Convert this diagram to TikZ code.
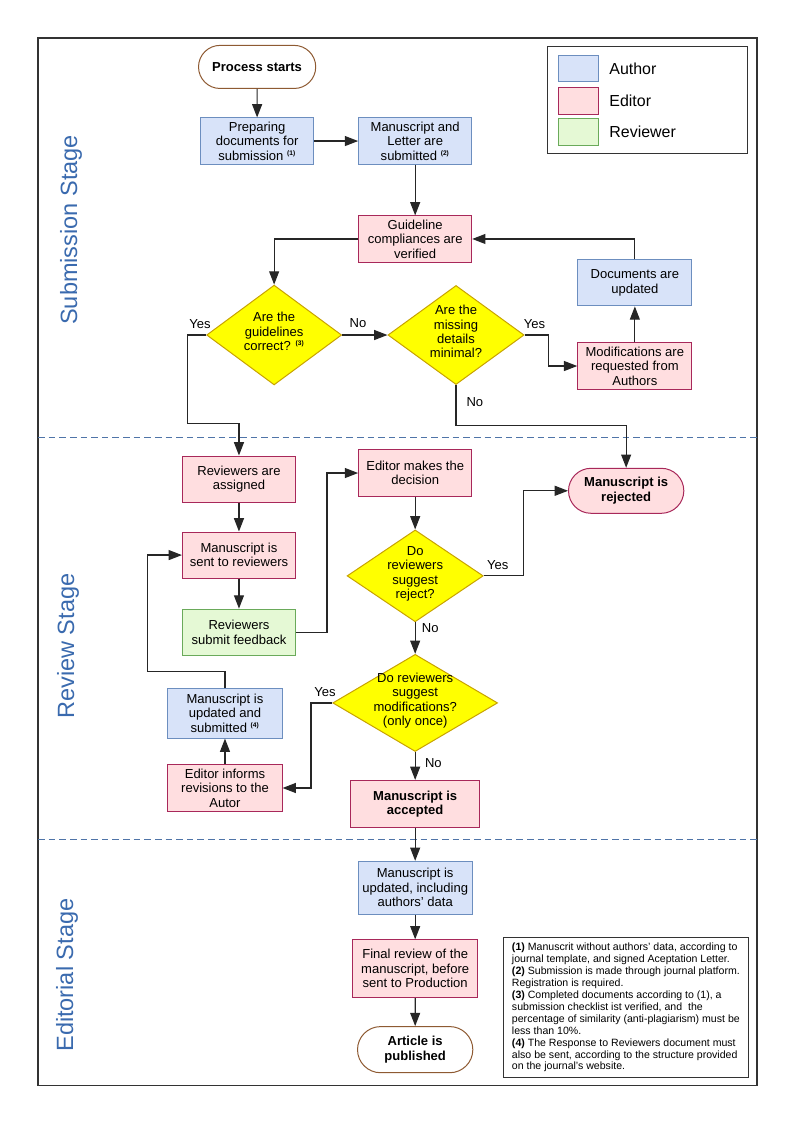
\documentclass[tikz,border=0pt]{standalone}
\usepackage{fontspec}
\setmainfont{Liberation Sans}
\usetikzlibrary{positioning,calc}
\usetikzlibrary{shapes.geometric,shapes.misc}
\usetikzlibrary{arrows.meta}

\definecolor{authorfill}{HTML}{D8E3F9}
\definecolor{authorline}{HTML}{6C8EBF}
\definecolor{editorfill}{HTML}{FFDEE0}
\definecolor{editorline}{HTML}{A8285A}
\definecolor{reviewfill}{HTML}{E5F9D5}
\definecolor{reviewline}{HTML}{6AAA5A}
\definecolor{askfill}{HTML}{FFFF00}
\definecolor{askline}{HTML}{C8A200}
\definecolor{termline}{HTML}{8E5A32}
\definecolor{stagetext}{HTML}{3A6AAE}
\definecolor{stagerule}{HTML}{4F74A8}

\newcommand{\supnum}[1]{\textsuperscript{\fontsize{5}{5}\selectfont\bfseries (#1)}}
\newcommand{\asktext}[1]{\raisebox{-2.5pt}{\smash{\begin{tabular}{@{}c@{}}#1\end{tabular}}}}

\tikzset{
   boxfont/.style={font=\fontsize{9.8}{10.9}\selectfont},
   box/.style={rectangle, line width=0.75pt, align=center, boxfont,
      inner xsep=2pt, inner ysep=1pt, minimum width=2.99cm, minimum height=1.22cm},
   author/.style={box, draw=authorline, fill=authorfill},
   editor/.style={box, draw=editorline, fill=editorfill},
   reviewer/.style={box, draw=reviewline, fill=reviewfill},
   terminal/.style={rounded rectangle, line width=0.75pt, align=center,
      boxfont, inner sep=1pt, minimum width=3.12cm, minimum height=1.2cm,
      execute at begin node=\bfseries},
   ask/.style={diamond, draw=askline, fill=askfill, line width=0.75pt,
      inner sep=0pt, boxfont},
   answer/.style={boxfont, inner sep=0pt},
   arr/.style={-{Triangle[length=10pt,width=7.5pt]}, line width=0.9pt, draw=black!85},
   stage/.style={rotate=90, text=stagetext, font=\fontsize{17.7}{20}\selectfont},
   stagerule/.style={dashed, dash pattern=on 5pt off 3pt, draw=stagerule, line width=0.75pt},
   swatch/.style={rectangle, line width=0.75pt, minimum width=1.06cm, minimum height=0.69cm},
   legendtext/.style={font=\fontsize{12}{14}\selectfont, anchor=west, inner sep=0pt}
}

\begin{document}
\begin{tikzpicture}[on grid]
   \useasboundingbox (0,0) rectangle (21,-29.7);

   % frame and stages
   \draw[line width=1pt, black!80] (1.005,-1.005) rectangle (20.02,-28.70);
   \draw[stagerule] (1.005,-11.56) -- (20.02,-11.56);
   \draw[stagerule] (1.005,-22.19) -- (20.02,-22.19);
   \node[stage] (t0) at (1.88,-6.08)  {Submission Stage};
   \node[stage] (t1) at (1.80,-17.09) {Review Stage};
   \node[stage] (t2) at (1.77,-25.79) {Editorial Stage};

   % submission stage
   \node[terminal, draw=termline, fill=white, minimum width=3.17cm, minimum height=1.14cm]
      (s0) at (6.80,-1.77) {Process starts};
   \node[author, below=1.96cm of s0] (s1) {Preparing\\documents for\\submission \supnum{1}};
   \node[author, right=4.18cm of s1] (s2) {Manuscript and\\Letter are\\submitted \supnum{2}};
   \node[editor, below=2.59cm of s2] (s3) {Guideline\\compliances are\\verified};
   \node[ask, minimum width=3.57cm, minimum height=2.64cm,
      below left=2.54cm and 3.73cm of s3] (s4) {\asktext{Are the\\guidelines\\correct? \supnum{3}}};
   \node[ask, minimum width=3.60cm, minimum height=2.62cm,
      right=4.81cm of s4] (s5) {\asktext{Are the\\missing\\details\\minimal?}};
   \node[editor, minimum width=3.02cm, below right=0.82cm and 4.73cm of s5]
      (s6) {Modifications are\\requested from\\Authors};
   \node[author, minimum width=3.02cm, above=2.20cm of s6] (s7) {Documents are\\updated};

   % review stage
   \node[editor, below left=3.81cm and 0.93cm of s4] (r0) {Reviewers are\\assigned};
   \node[editor, below=2.01cm of r0] (r1) {Manuscript is\\sent to reviewers};
   \node[reviewer, below=2.04cm of r1] (r2) {Reviewers\\submit feedback};
   \node[editor, below=6.19cm of s3] (r3) {Editor makes the\\decision};
   \node[ask, minimum width=3.60cm, minimum height=2.43cm,
      below=2.72cm of r3] (r4) {\asktext{Do\\reviewers\\suggest\\reject?}};
   \node[ask, minimum width=4.36cm, minimum height=2.57cm,
      below=3.36cm of r4] (r5) {\asktext{Do reviewers\\suggest\\modifications?\\(only once)}};
   \node[editor, minimum width=3.41cm, minimum height=1.24cm, below=2.67cm of r5,
      execute at begin node=\bfseries] (r6) {Manuscript is\\accepted};
   \node[terminal, draw=editorline, fill=editorfill, minimum height=1.19cm,
      above right=2.25cm and 5.58cm of r4] (r7) {Manuscript is\\rejected};
   \node[editor, minimum width=3.02cm, below left=2.25cm and 5.03cm of r5]
      (r8) {Editor informs\\revisions to the\\Autor};
   \node[author, minimum width=3.02cm, minimum height=1.32cm, above=1.98cm of r8]
      (r9) {Manuscript is\\updated and\\submitted \supnum{4}};

   % editorial stage
   \node[author, minimum width=3.02cm, minimum height=1.40cm, below=2.22cm of r6]
      (e0) {Manuscript is\\updated, including\\authors’ data};
   \node[editor, minimum width=3.31cm, minimum height=1.53cm, below=2.14cm of e0]
      (e1) {Final review of the\\manuscript, before\\sent to Production};
   \node[terminal, draw=termline, fill=white, minimum height=1.22cm, below=2.14cm of e1]
      (e2) {Article is\\published};

   % answers
   \node[answer] (a0) at ($(s4.west)+(-0.16,0.29)$) {Yes};
   \node[answer] (a1) at ($(s4.east)+(0.42,0.32)$)  {No};
   \node[answer] (a2) at ($(s5.east)+(0.26,0.29)$)  {Yes};
   \node[answer] (a3) at ($(s5.south)+(0.50,-0.45)$) {No};
   \node[answer] (a4) at ($(r4.east)+(0.37,0.29)$)  {Yes};
   \node[answer] (a5) at ($(r4.south)+(0.40,-0.16)$) {No};
   \node[answer] (a6) at ($(r5.west)+(-0.19,0.29)$) {Yes};
   \node[answer] (a7) at ($(r5.south)+(0.48,-0.29)$) {No};

   % flow
   \draw[arr] (s0) -- (s1);
   \draw[arr] (s1) -- (s2);
   \draw[arr] (s2) -- (s3);
   \draw[arr] (s3.west) -| (s4.north);
   \draw[arr] (s4.east) -- (s5.west);
   \draw[arr] (s5.east) -- ++(0.63,0) |- (s6.west);
   \draw[arr] (s6) -- (s7);
   \draw[arr] (s7.north) |- (s3.east);
   \draw[arr] (s4.west) -- ++(-0.50,0) |- ($(r0.north)+(0,0.85)$) -- (r0.north);
   \draw[arr] (s5.south) -- ++(0,-1.06) -| (r7.north);

   \draw[arr] (r0) -- (r1);
   \draw[arr] (r1) -- (r2);
   \draw[arr] (r2.east) -- ++(0.82,0) |- (r3.west);
   \draw[arr] (r3) -- (r4);
   \draw[arr] (r4.east) -- ++(1.06,0) |- (r7.west);
   \draw[arr] (r4) -- (r5);
   \draw[arr] (r5) -- (r6);
   \draw[arr] (r5.west) -- ++(-0.56,0) |- (r8.east);
   \draw[arr] (r8) -- (r9);
   \draw[arr] (r9.north) -- ++(0,0.42) -- ++(-2.04,0) |- (r1.west);

   \draw[arr] (r6) -- (e0);
   \draw[arr] (e0) -- (e1);
   \draw[arr] (e1) -- (e2);

   % legend
   \node[draw=black!80, line width=0.75pt, minimum width=5.29cm, minimum height=2.85cm]
      (lg) at (17.135,-2.645) {};
   \node[swatch, draw=authorline, fill=authorfill] (lg0) at (15.29,-1.82) {};
   \node[swatch, draw=editorline, fill=editorfill] (lg1) at (15.29,-2.67) {};
   \node[swatch, draw=reviewline, fill=reviewfill] (lg2) at (15.29,-3.49) {};
   \node[legendtext] (lt0) at (16.11,-1.82) {Author};
   \node[legendtext] (lt1) at (16.11,-2.67) {Editor};
   \node[legendtext] (lt2) at (16.11,-3.49) {Reviewer};

   % notes
   \node[draw=black!80, line width=0.75pt, anchor=north west, align=left,
      minimum width=6.48cm, minimum height=3.70cm, inner sep=3pt,
      font=\fontsize{7.95}{9}\selectfont] (nt) at (13.30,-24.78)
      {\textbf{(1)} Manuscrit without authors’ data, according to\\
       journal template, and signed Aceptation Letter.\\
       \textbf{(2)} Submission is made through journal platform.\\
       Registration is required.\\
       \textbf{(3)} Completed documents according to (1), a\\
       submission checklist ist verified, and\ \ the\\
       percentage of similarity (anti-plagiarism) must be\\
       less than 10\%.\\
       \textbf{(4)} The Response to Reviewers document must\\
       also be sent, according to the structure provided\\
       on the journal’s website.};
\end{tikzpicture}
\end{document}
